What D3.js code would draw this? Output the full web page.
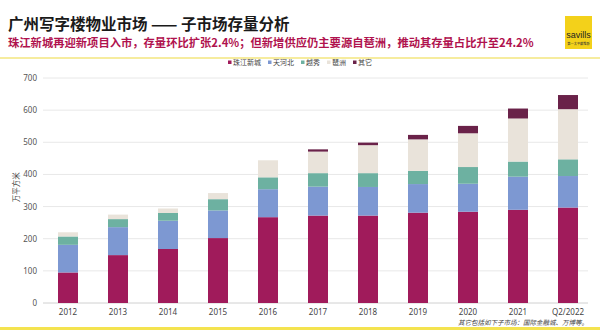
<!DOCTYPE html>
<html>
<head>
<meta charset="utf-8">
<script src="https://cdn.jsdelivr.net/npm/d3@7"></script>
<style>
  body { margin: 0; background: #fff; }
  svg { display: block; font-family: "Noto Sans CJK SC", "Noto Sans", sans-serif; }
</style>
</head>
<body>
<div id="chart"></div>
<script>
// categories and series (万平方米)
const years = ["2012", "2013", "2014", "2015", "2016", "2017", "2018", "2019", "2020", "2021", "Q2/2022"];
const seriesNames = ["珠江新城", "天河北", "越秀", "琶洲", "其它"];
const zhujiang = [95, 149, 168, 202, 267, 272, 272, 281, 284, 290, 297];
const tianhebei = [86, 87, 88, 86, 87, 90, 89, 89, 87, 103, 98];
const yuexiu = [26, 25, 24, 35, 37, 42, 43, 41, 52, 47, 52];
const pazhou = [13, 14, 14, 19, 53, 67, 87, 98, 105, 134, 156];
const others = [0, 0, 0, 0, 0, 7, 8, 14, 23, 31, 44];
const yTicks = [0, 100, 200, 300, 400, 500, 600, 700];
const colors = ["#a01b5b", "#7d98d2", "#6db1a1", "#e9e3da", "#6a2249"];

const W = 600, H = 330;
const margin = {top: 78, right: 7, bottom: 27, left: 43};

const svg = d3.select("#chart").append("svg")
  .attr("width", W).attr("height", H);

// header
svg.append("text").attr("x", 8).attr("y", 30)
  .attr("font-size", 15.5).attr("font-weight", "bold").attr("fill", "#1a1a1a")
  .text("广州写字楼物业市场 —— 子市场存量分析");
svg.append("text").attr("x", 8).attr("y", 47)
  .attr("font-size", 11.3).attr("font-weight", "bold").attr("fill", "#b0124e")
  .text("珠江新城再迎新项目入市，存量环比扩张2.4%；但新增供应仍主要源自琶洲，推动其存量占比升至24.2%");
svg.append("rect").attr("x", 0).attr("y", 57).attr("width", W).attr("height", 2)
  .attr("fill", "#f6ec9e");

// logo
const logo = svg.append("g").attr("transform", "translate(565,16)");
logo.append("rect").attr("width", 27).attr("height", 33).attr("fill", "#f3d11a");
logo.append("text").attr("x", 13.5).attr("y", 22).attr("text-anchor", "middle")
  .attr("font-size", 9).attr("fill", "#222").attr("font-family", "Liberation Sans, sans-serif")
  .text("savills");
logo.append("text").attr("x", 13.5).attr("y", 29).attr("text-anchor", "middle")
  .attr("font-size", 3.2).attr("fill", "#333").text("第一太平戴维斯");

// scales
const x = d3.scaleBand().domain(years)
  .range([margin.left, W - margin.right]).paddingInner(0.6).paddingOuter(0.3);
const y = d3.scaleLinear().domain([0, 700]).range([H - margin.bottom, margin.top]);

// grid
svg.append("g").selectAll("line").data(yTicks).join("line")
  .attr("x1", margin.left).attr("x2", W - margin.right - 5)
  .attr("y1", d => y(d)).attr("y2", d => y(d))
  .attr("stroke", d => d === 0 ? "#d0d0d0" : "#e8e8e8").attr("stroke-width", 1);

// y axis labels
const yAxis = svg.append("g").attr("transform", `translate(${margin.left - 6},0)`)
  .call(d3.axisLeft(y).tickValues(yTicks).tickSize(0).tickPadding(0));
yAxis.select(".domain").remove();
yAxis.selectAll("text").attr("font-size", 8).attr("fill", "#555")
  .attr("font-family", "Noto Sans, sans-serif");

svg.append("text")
  .attr("transform", `translate(19,${y(360)}) rotate(-90)`)
  .attr("text-anchor", "middle").attr("font-size", 7.5).attr("fill", "#444")
  .text("万平方米");

// x axis labels
const xAxis = svg.append("g").attr("transform", `translate(0,${y(0)})`)
  .call(d3.axisBottom(x).tickSize(0).tickPadding(6));
xAxis.select(".domain").remove();
xAxis.selectAll("text").attr("font-size", 8).attr("fill", "#444")
  .attr("font-family", "Noto Sans, sans-serif");

// stacked bars
const table = years.map((yr, i) => ({
  year: yr,
  "珠江新城": zhujiang[i], "天河北": tianhebei[i], "越秀": yuexiu[i],
  "琶洲": pazhou[i], "其它": others[i]
}));
const stacked = d3.stack().keys(seriesNames)(table);

svg.append("g").selectAll("g").data(stacked).join("g")
  .attr("fill", (d, i) => colors[i])
  .selectAll("rect").data(d => d).join("rect")
  .attr("x", d => x(d.data.year))
  .attr("width", x.bandwidth())
  .attr("y", d => y(d[1]))
  .attr("height", d => y(d[0]) - y(d[1]));

// legend
const legend = svg.append("g").attr("transform", "translate(228,65)");
let lx = 0;
seriesNames.forEach((name, i) => {
  const g = legend.append("g").attr("transform", `translate(${lx},0)`);
  g.append("rect").attr("x", 0).attr("y", -4.5).attr("width", 3.5).attr("height", 3.5)
    .attr("fill", colors[i]);
  g.append("text").attr("x", 5).attr("y", 0).attr("font-size", 7).attr("fill", "#444")
    .text(name);
  lx += 5 + name.length * 7 + 7;
});

// footnote
svg.append("text").attr("x", 588).attr("y", 325).attr("text-anchor", "end")
  .attr("font-size", 6.5).attr("font-style", "italic").attr("fill", "#444")
  .text("其它包括如下子市场：国际金融城、万博等。");

// bottom band
svg.append("rect").attr("x", 0).attr("y", 327).attr("width", W).attr("height", 3)
  .attr("fill", "#f4e34f");
</script>
</body>
</html>
